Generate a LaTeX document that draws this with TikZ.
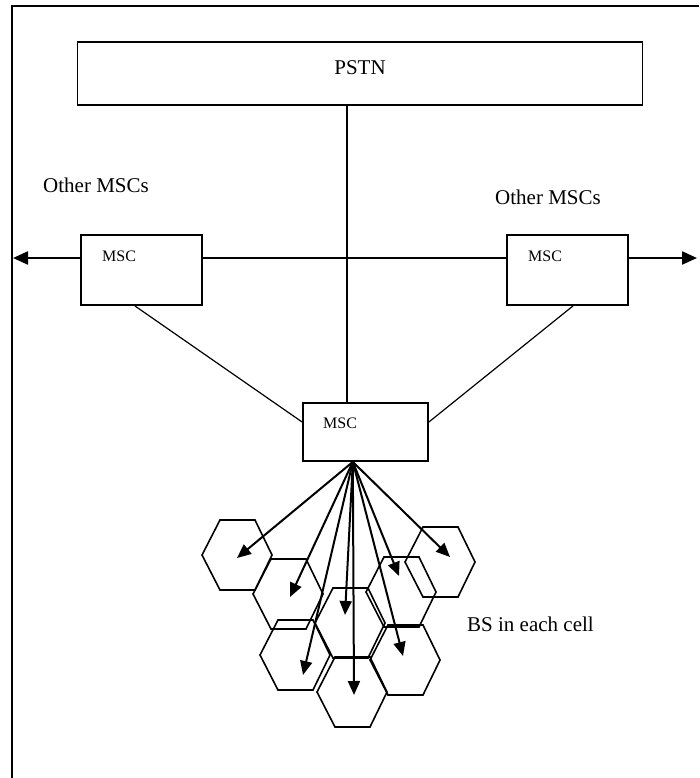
\documentclass[tikz,border=0pt]{standalone}
\usepackage{fontspec}
\setmainfont{Liberation Serif}
\usetikzlibrary{arrows.meta,calc}
\begin{document}
\begin{tikzpicture}[x=1pt,y=-1pt,
  boxline/.style={draw,line width=1.8pt,inner sep=0pt},
  link/.style={line width=1.2pt},
  hex/.style={line width=1.6pt,line join=miter},
  fan/.style={line width=2pt,-{Triangle[length=14pt,width=12pt]}},
  sidearr/.style={line width=2.2pt,-{Triangle[length=15pt,width=13pt]}},
  bigtxt/.style={font=\fontsize{21}{25}\selectfont,inner sep=0pt},
  smalltxt/.style={font=\fontsize{16}{19}\selectfont,inner sep=0pt}]
\useasboundingbox (0,0) rectangle (699,778);
% frame
\draw[line width=2pt] (699,6) -- (12,6) -- (12,778);
% boxes
\node[boxline,minimum width=565pt,minimum height=63pt] (pstn) at (360,73.5) {};
\node[boxline,minimum width=121pt,minimum height=70pt] (mscL) at (141.5,270) {};
\node[boxline,minimum width=121pt,minimum height=70pt] (mscR) at (567.5,270) {};
\node[boxline,minimum width=125pt,minimum height=58pt] (msc) at (365.5,432) {};
% texts
\node[bigtxt,anchor=base] (tpstn) at (360,75) {PSTN};
\node[bigtxt,anchor=base west] (othL) at (43,193) {Other MSCs};
\node[bigtxt,anchor=base west] (othR) at (495,204) {Other MSCs};
\node[smalltxt,anchor=base west] (tL) at (102,261) {MSC};
\node[smalltxt,anchor=base west] (tR) at (528,261) {MSC};
\node[smalltxt,anchor=base west] (tC) at (323,428) {MSC};
\node[bigtxt,anchor=base west] (bs) at (467,631) {BS in each cell};
% connectors
\coordinate (vx) at (347,0);
\draw[link] (pstn.south -| vx) -- (msc.north -| vx);
\draw[link] ([yshift=12pt]mscL.east) -- ([yshift=12pt]mscR.west);
\draw[link] ($(mscL.south west)!0.446!(mscL.south east)$) -- ([yshift=10pt]msc.west);
\draw[link] ($(mscR.south west)!0.545!(mscR.south east)$) -- ([yshift=10pt]msc.east);
\coordinate (lend) at (13,258);
\coordinate (rend) at (697,258);
\draw[sidearr] ([yshift=12pt]mscL.west) -- (lend);
\draw[sidearr] ([yshift=12pt]mscR.east) -- (rend);
% hexagonal cells
\foreach \n/\x/\y in {A/237/555, B/288/594, C/350/623, D/401/592, E/440/562, F/295/655, G/352/692, H/405/660} {
  \draw[hex] (\x-35,\y) -- (\x-17,\y-35) -- (\x+18,\y-35) -- (\x+35,\y) -- (\x+18,\y+35) -- (\x-17,\y+35) -- cycle;
}
% fan of arrows
\coordinate (src) at ($(msc.south west)!0.4!(msc.south east)$);
\foreach \t/\x/\y in {A/237/558, B/290/597, C/345/615, D/399/576, E/450/557, F/303/675, G/354/695, H/403/656} {
  \coordinate (tip\t) at (\x,\y);
  \draw[fan] (src) -- (tip\t);
}
\end{tikzpicture}
\end{document}
